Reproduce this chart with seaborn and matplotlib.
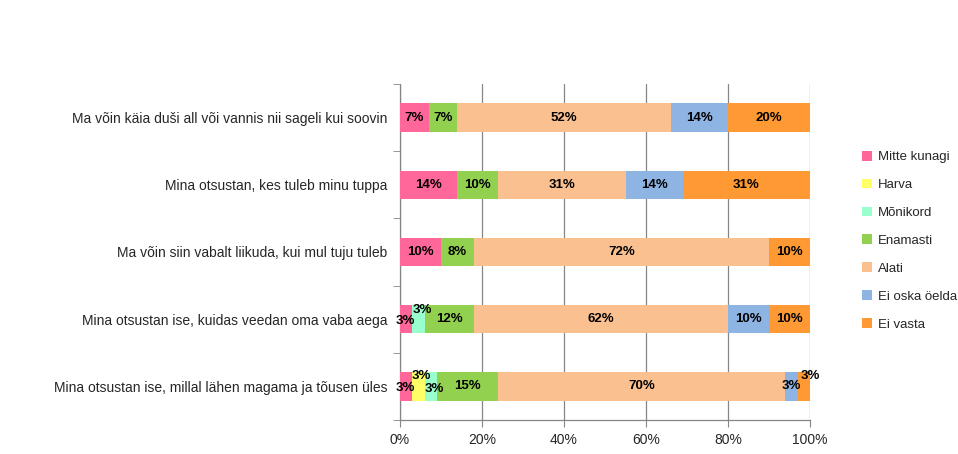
import numpy as np
import pandas as pd
import matplotlib
matplotlib.use('Agg')
import matplotlib.pyplot as plt
import seaborn as sns
from matplotlib.patches import Patch

sns.set_style('white')
plt.rcParams['font.family'] = ['Liberation Sans', 'DejaVu Sans']

# --- Data ---
questions = [
    'Ma võin käia duši all või vannis nii sageli kui soovin',
    'Mina otsustan, kes tuleb minu tuppa',
    'Ma võin siin vabalt liikuda, kui mul tuju tuleb',
    'Mina otsustan ise, kuidas veedan oma vaba aega',
    'Mina otsustan ise, millal lähen magama ja tõusen üles',
]
answers = ['Mitte kunagi', 'Harva', 'Mõnikord', 'Enamasti', 'Alati', 'Ei oska öelda', 'Ei vasta']
mitte_kunagi = [7, 14, 10, 3, 3]
harva = [0, 0, 0, 0, 3]
monikord = [0, 0, 0, 3, 3]
enamasti = [7, 10, 8, 12, 15]
alati = [52, 31, 72, 62, 70]
ei_oska = [14, 14, 0, 10, 3]
ei_vasta = [20, 31, 10, 10, 3]
colors = ['#FF6699', '#FFFF66', '#99FFCC', '#92D050', '#FAC090', '#8EB4E3', '#FF9933']

values = np.array([mitte_kunagi, harva, monikord, enamasti, alati, ei_oska, ei_vasta])
cum = values.cumsum(axis=0)

fig = plt.figure(figsize=(9.58, 4.54), dpi=100)
ax = fig.add_axes([400 / 958, 1 - 420 / 454, 410 / 958, 336 / 454])

# stacked bars: draw cumulative totals from the last series to the first
for i in range(len(answers) - 1, -1, -1):
    df = pd.DataFrame({'q': questions, 'v': cum[i]})
    sns.barplot(data=df, x='v', y='q', orient='h', color=colors[i],
                saturation=1, width=0.42, linewidth=0, ax=ax, zorder=3)

# percentage labels; small segments get nudged like in the original
nudge = {(3, 0): (-1, -2), (3, 2): (4, 9), (4, 0): (-1, -2), (4, 1): (3, 10),
         (4, 2): (4, -3), (4, 6): (6, 10)}
for i in range(len(answers)):
    for j in range(len(questions)):
        v = values[i, j]
        if v == 0:
            continue
        x = cum[i, j] - v / 2
        dx, dy = nudge.get((j, i), (0, 0))
        ax.annotate(f'{v}%', (x, j), xytext=(dx, dy), textcoords='offset pixels',
                    ha='center', va='center', fontsize=9.5, fontweight='bold',
                    color='black', zorder=5)

ax.set_xlim(0, 100)
ax.set_ylim(4.5, -0.5)
ax.set_xticks(range(0, 101, 20))
ax.set_xticklabels([f'{t}%' for t in range(0, 101, 20)], fontsize=10)
ax.set_yticks(range(len(questions)))
ax.set_yticklabels(questions, fontsize=10)
ax.set_yticks(np.arange(-0.5, 5, 1), minor=True)
ax.tick_params(axis='y', which='major', length=0, pad=9)
ax.tick_params(axis='y', which='minor', length=5, color='#868686', direction='out', left=True)
ax.tick_params(axis='x', length=5, color='#868686', direction='out', bottom=True, pad=4)
ax.set_xlabel('')
ax.set_ylabel('')
ax.grid(axis='x', color='#868686', linewidth=0.9, zorder=0)
ax.set_axisbelow(True)
for s in ['top', 'right']:
    ax.spines[s].set_visible(False)
for s in ['left', 'bottom']:
    ax.spines[s].set_color('#868686')
    ax.spines[s].set_linewidth(0.9)

handles = [Patch(facecolor=c, edgecolor='none') for c in colors]
fig.legend(handles, answers, loc='upper left', bbox_to_anchor=(850 / 958, 1 - 139 / 454),
           frameon=False, fontsize=9.5, handlelength=0.75, handleheight=0.75,
           handletextpad=0.45, labelspacing=1.17)

fig.savefig('out.png', dpi=100)
